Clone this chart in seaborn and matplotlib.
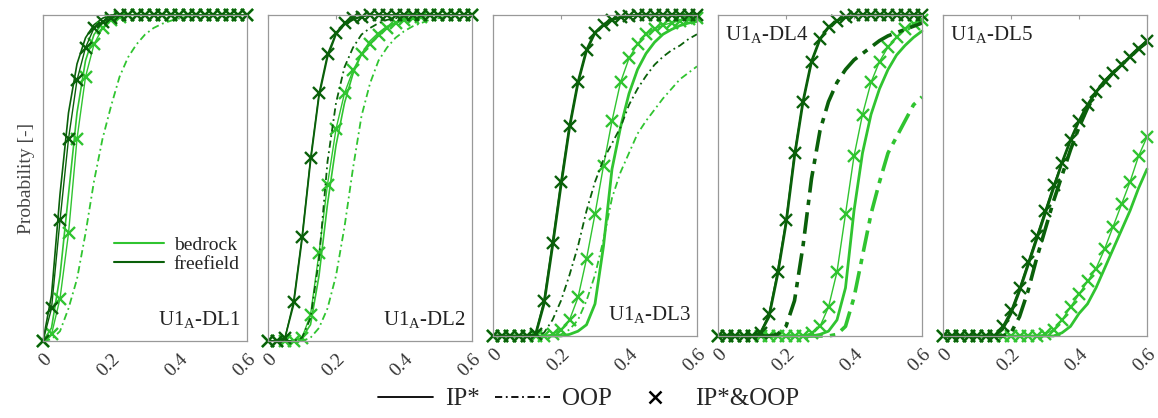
import matplotlib
matplotlib.use("Agg")
import matplotlib.pyplot as plt
import seaborn as sns
import pandas as pd
from matplotlib.lines import Line2D

# --- dados (probabilidade em cada ponto de x) ---
X_GRID = [0, 0.025, 0.05, 0.075, 0.1, 0.125, 0.15, 0.175, 0.2, 0.225, 0.25, 0.275,
          0.3, 0.325, 0.35, 0.375, 0.4, 0.425, 0.45, 0.475, 0.5, 0.525, 0.55, 0.575, 0.6]

PANEL_TITLES = ["DL1", "DL2", "DL3", "DL4", "DL5"]
X_TICKS = [0, 0.2, 0.4, 0.6]
X_TICK_LABELS = ["0", "0.2", "0.4", "0.6"]

# DL1
DL1_FF_X = [0, 0.10, 0.37, 0.62, 0.80, 0.90, 0.96, 0.98, 0.99] + [1] * 16
DL1_FF_IP = [0, 0.14, 0.45, 0.70, 0.85, 0.93, 0.97, 0.99] + [1] * 17
DL1_BED_X = [0, 0.02, 0.13, 0.33, 0.62, 0.81, 0.91, 0.96, 0.985, 0.995] + [1] * 15
DL1_BED_IP = [0, 0.04, 0.20, 0.45, 0.70, 0.86, 0.94, 0.975, 0.99] + [1] * 16
DL1_BED_OOP = [0, 0.005, 0.03, 0.10, 0.19, 0.33, 0.49, 0.62, 0.72, 0.81, 0.87, 0.91,
               0.94, 0.96, 0.973, 0.982, 0.99, 0.995] + [1] * 7

# DL2
DL2_FF_X = [0, 0, 0.01, 0.12, 0.32, 0.56, 0.76, 0.88, 0.945, 0.975, 0.99, 0.995] + [1] * 13
DL2_FF_IP = [0, 0, 0.01, 0.11, 0.31, 0.55, 0.75, 0.87, 0.94, 0.97, 0.985, 0.995] + [1] * 13
DL2_FF_OOP = [0, 0, 0, 0, 0.01, 0.07, 0.25, 0.55, 0.73, 0.84, 0.90, 0.94, 0.96, 0.975,
              0.985, 0.99, 0.995, 1, 1, 1, 1, 1, 1, 1, 1]
DL2_BED_X = [0, 0, 0, 0, 0.01, 0.08, 0.27, 0.48, 0.65, 0.76, 0.83, 0.88, 0.91, 0.94,
             0.96, 0.975, 0.985, 0.99, 0.995, 1, 1, 1, 1, 1, 1]
DL2_BED_IP = [0, 0, 0, 0, 0.01, 0.05, 0.20, 0.42, 0.60, 0.73, 0.82, 0.88, 0.92, 0.945,
              0.965, 0.975, 0.985, 0.99, 0.995, 1, 1, 1, 1, 1, 1]
DL2_BED_OOP = [0, 0, 0, 0, 0, 0.01, 0.04, 0.10, 0.20, 0.35, 0.53, 0.69, 0.79, 0.86,
               0.90, 0.93, 0.95, 0.965, 0.975, 0.985, 0.99, 0.995, 1, 1, 1]

# DL3
DL3_FF_X = [0, 0, 0, 0, 0, 0.005, 0.11, 0.29, 0.48, 0.655, 0.79, 0.89, 0.945, 0.97,
            0.985, 0.993, 0.997] + [1] * 8
DL3_FF_IP = [0, 0, 0, 0, 0, 0.004, 0.10, 0.28, 0.47, 0.65, 0.79, 0.89, 0.945, 0.97,
             0.985, 0.993, 0.997] + [1] * 8
DL3_FF_OOP = [0, 0, 0, 0, 0, 0, 0.01, 0.05, 0.11, 0.19, 0.28, 0.39, 0.48, 0.55, 0.60,
              0.65, 0.72, 0.77, 0.81, 0.845, 0.87, 0.89, 0.905, 0.925, 0.94]
DL3_BED_X = [0, 0, 0, 0, 0, 0, 0, 0.005, 0.02, 0.05, 0.12, 0.24, 0.38, 0.53, 0.67,
             0.79, 0.865, 0.91, 0.94, 0.957, 0.968, 0.976, 0.982, 0.987, 0.99]
DL3_BED_IP = [0] * 9 + [0.005, 0.015, 0.035, 0.10, 0.28, 0.52, 0.65, 0.755, 0.83, 0.88,
                        0.915, 0.94, 0.955, 0.967, 0.975, 0.98]
DL3_BED_OOP = [0] * 8 + [0.005, 0.02, 0.05, 0.11, 0.19, 0.30, 0.43, 0.51, 0.57, 0.63,
                         0.67, 0.705, 0.74, 0.77, 0.80, 0.82, 0.84]

# DL4
DL4_FF_X = [0] * 5 + [0.01, 0.07, 0.20, 0.36, 0.57, 0.73, 0.855, 0.925, 0.962, 0.982,
                      0.993] + [1] * 9
DL4_FF_IP = [0] * 5 + [0.01, 0.06, 0.19, 0.35, 0.56, 0.73, 0.855, 0.925, 0.962, 0.982,
                       0.993] + [1] * 9
DL4_FF_OOP = [0] * 7 + [0.005, 0.03, 0.11, 0.28, 0.49, 0.64, 0.73, 0.79, 0.83, 0.86,
                        0.88, 0.90, 0.92, 0.935, 0.945, 0.955, 0.965, 0.975]
DL4_BED_X = [0] * 11 + [0.01, 0.03, 0.09, 0.20, 0.38, 0.56, 0.69, 0.79, 0.855, 0.90,
                        0.93, 0.955, 0.972, 0.985]
DL4_BED_IP = [0] * 12 + [0.005, 0.015, 0.05, 0.15, 0.39, 0.57, 0.69, 0.77, 0.83, 0.875,
                         0.905, 0.93, 0.95]
DL4_BED_OOP = [0] * 14 + [0.005, 0.03, 0.12, 0.25, 0.38, 0.48, 0.57, 0.62, 0.67, 0.72,
                          0.745]

# DL5
DL5_FF_X = [0] * 7 + [0.03, 0.08, 0.15, 0.23, 0.31, 0.39, 0.47, 0.54, 0.61, 0.67, 0.72,
                      0.76, 0.795, 0.82, 0.845, 0.87, 0.895, 0.92]
DL5_FF_IP = [0] * 7 + [0.02, 0.07, 0.14, 0.22, 0.30, 0.38, 0.46, 0.54, 0.61, 0.67, 0.72,
                       0.76, 0.795, 0.82, 0.845, 0.87, 0.895, 0.92]
DL5_FF_OOP = [0] * 8 + [0.01, 0.06, 0.14, 0.24, 0.33, 0.42, 0.50, 0.58, 0.65, 0.71,
                        0.755, 0.79, 0.82, 0.845, 0.87, 0.895, 0.915]
DL5_BED_X = [0] * 12 + [0.005, 0.02, 0.05, 0.09, 0.13, 0.17, 0.21, 0.27, 0.34, 0.41,
                        0.48, 0.56, 0.62]
DL5_BED_IP = [0] * 14 + [0.01, 0.03, 0.07, 0.10, 0.15, 0.21, 0.27, 0.33, 0.39, 0.46, 0.52]

LIGHT = '#30c430'
DARK = '#0a600a'

# (curva, cor, tipo) por painel
PANELS = [
    [(DL1_BED_OOP, LIGHT, 'oop'), (DL1_BED_IP, LIGHT, 'ip'), (DL1_FF_IP, DARK, 'ip'),
     (DL1_BED_X, LIGHT, 'x'), (DL1_FF_X, DARK, 'x')],
    [(DL2_BED_OOP, LIGHT, 'oop'), (DL2_BED_IP, LIGHT, 'ip'), (DL2_BED_X, LIGHT, 'x'),
     (DL2_FF_OOP, DARK, 'oop'), (DL2_FF_IP, DARK, 'ip'), (DL2_FF_X, DARK, 'x')],
    [(DL3_BED_OOP, LIGHT, 'oop'), (DL3_BED_IP, LIGHT, 'ip'), (DL3_BED_X, LIGHT, 'x'),
     (DL3_FF_OOP, DARK, 'oop'), (DL3_FF_IP, DARK, 'ip'), (DL3_FF_X, DARK, 'x')],
    [(DL4_BED_OOP, LIGHT, 'oop'), (DL4_BED_IP, LIGHT, 'ip'), (DL4_BED_X, LIGHT, 'x'),
     (DL4_FF_OOP, DARK, 'oop'), (DL4_FF_IP, DARK, 'ip'), (DL4_FF_X, DARK, 'x')],
    [(DL5_BED_IP, LIGHT, 'ip'), (DL5_BED_X, LIGHT, 'x'),
     (DL5_FF_OOP, DARK, 'oop'), (DL5_FF_IP, DARK, 'ip'), (DL5_FF_X, DARK, 'x')],
]

sns.set_style("white")
plt.rcParams['font.family'] = ['Liberation Serif', 'DejaVu Serif']

fig = plt.figure(figsize=(11.58, 4.18), dpi=100)
W, H = 1158, 418
lefts = [43, 268, 493, 718, 943]
bottoms = [341, 341, 336, 336, 336]
top = 15
width = 204

for i, curves in enumerate(PANELS):
    ax = fig.add_axes([lefts[i] / W, 1 - bottoms[i] / H, width / W, (bottoms[i] - top) / H])
    thick = i >= 2
    for vals, color, kind in curves:
        df = pd.DataFrame({'x': X_GRID, 'p': vals})
        if kind == 'x':
            sns.lineplot(data=df, x='x', y='p', ax=ax, color=color, lw=1.0,
                         marker='x', markersize=8, markeredgewidth=1.7,
                         markeredgecolor=color, clip_on=False)
        elif kind == 'ip':
            sns.lineplot(data=df, x='x', y='p', ax=ax, color=color,
                         lw=2.0 if thick else 1.2, clip_on=False)
        else:
            sns.lineplot(data=df, x='x', y='p', ax=ax, color=color,
                         lw=2.6 if i >= 3 else 1.3, clip_on=False,
                         dashes=(6, 2, 1.5, 2) if i >= 3 else (4, 2, 1, 2))
    ax.set_xlim(0, 0.6)
    ax.set_ylim(0, 1)
    ax.set_xticks(X_TICKS)
    ax.set_xticklabels(X_TICK_LABELS, rotation=45, ha='right', rotation_mode='anchor',
                       fontsize=14, color='#333333')
    ax.set_yticks([])
    ax.tick_params(axis='x', direction='in', top=True, length=3, color='#999999', pad=7)
    for s in ax.spines.values():
        s.set_color('#999999')
        s.set_linewidth(0.9)
    ax.set_xlabel('')
    ax.set_ylabel('')
    label = 'U1$_\\mathregular{A}$-' + PANEL_TITLES[i]
    if i < 3:
        ax.text(0.97, 0.03, label, transform=ax.transAxes, ha='right', va='bottom',
                fontsize=15, color='#222222')
    else:
        ax.text(0.035, 0.97, label, transform=ax.transAxes, ha='left', va='top',
                fontsize=15, color='#222222')
    if i == 0:
        ax.set_ylabel('Probability [-]', fontsize=14, color='#444444', labelpad=6)
        h = [Line2D([], [], color=LIGHT, lw=1.5), Line2D([], [], color=DARK, lw=1.5)]
        ax.legend(h, ['bedrock', 'freefield'], loc='center left',
                  bbox_to_anchor=(0.26, 0.265), frameon=False, fontsize=14,
                  handlelength=2.6, handletextpad=0.5, labelspacing=0.1)

handles = [Line2D([], [], color='black', lw=1.3),
           Line2D([], [], color='black', lw=1.3, dashes=(4, 2, 1, 2)),
           Line2D([], [], color='black', lw=0, marker='x', markersize=9, markeredgewidth=1.8)]
fig.legend(handles, ['IP*', 'OOP', 'IP*&OOP'], loc='center', ncol=3,
           bbox_to_anchor=(0.508, 0.045), frameon=False, fontsize=18,
           handlelength=2.2, columnspacing=0.6, handletextpad=0.5)

fig.savefig('out.png', dpi=100)
